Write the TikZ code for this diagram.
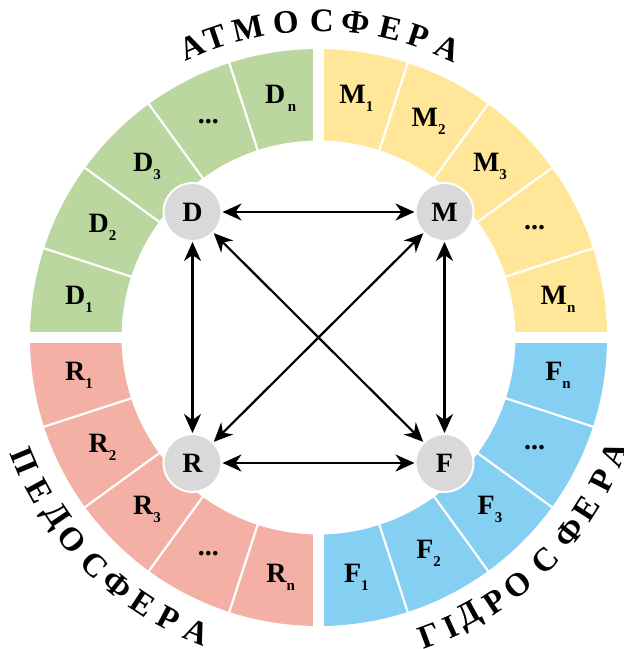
\documentclass[tikz,border=0pt]{standalone}
\usepackage{fontspec}
\setmainfont{Liberation Serif}
\usetikzlibrary{arrows.meta}
\definecolor{cgreen}{RGB}{186,215,160}
\definecolor{cyellow}{RGB}{255,230,153}
\definecolor{csalmon}{RGB}{245,176,166}
\definecolor{cblue}{RGB}{133,207,243}
\definecolor{cgray}{RGB}{217,217,217}
\newcommand{\sg}[2]{#1\raisebox{-8pt}{\fontsize{15}{15}\selectfont #2}}
\begin{document}
\begin{tikzpicture}[x=1pt,y=1pt,
  seglabel/.style={font=\fontsize{28}{28}\selectfont\bfseries, inner sep=0pt},
  cnode/.style={circle, fill=cgray, draw=white, line width=2pt, minimum size=58pt, inner sep=0pt, font=\fontsize{28}{28}\selectfont\bfseries},
  arr/.style={line width=2.2pt, {Stealth[length=19pt,width=17pt,inset=6pt]}-{Stealth[length=19pt,width=17pt,inset=6pt]}},
  bigletter/.style={font=\fontsize{33}{33}\selectfont\bfseries, inner sep=0pt}]
\useasboundingbox (-318.5,-311.5) rectangle (305.5,337.5);
\def\Ri{197}
\def\Ro{288.5}
% quadrants
\fill[cyellow] (0:\Ro) arc[start angle=0,end angle=90,radius=\Ro] -- (90:\Ri) arc[start angle=90,end angle=0,radius=\Ri] -- cycle;
\fill[cgreen] (90:\Ro) arc[start angle=90,end angle=180,radius=\Ro] -- (180:\Ri) arc[start angle=180,end angle=90,radius=\Ri] -- cycle;
\fill[csalmon] (180:\Ro) arc[start angle=180,end angle=270,radius=\Ro] -- (270:\Ri) arc[start angle=270,end angle=180,radius=\Ri] -- cycle;
\fill[cblue] (270:\Ro) arc[start angle=270,end angle=360,radius=\Ro] -- (360:\Ri) arc[start angle=360,end angle=270,radius=\Ri] -- cycle;
% separators
\foreach \a in {18,36,54,72,108,126,144,162,198,216,234,252,288,306,324,342}
  \draw[white, line width=2.2pt] (\a:194) -- (\a:292);
\fill[white] (-5.75,-300) rectangle (5.75,300);
\fill[white] (-300,-5.75) rectangle (300,5.75);
% segment labels
\def\Rl{242.5}
\node[seglabel] (d1) at (171:\Rl) {\sg{D}{1}};
\node[seglabel] (d2) at (153:\Rl) {\sg{D}{2}};
\node[seglabel] (d3) at (135:\Rl) {\sg{D}{3}};
\node[seglabel] (d4) at (117:\Rl) {...};
\node[seglabel] (dn) at (99:\Rl) {\sg{D}{\,n}};
\node[seglabel] (m1) at (81:\Rl) {\sg{M}{1}};
\node[seglabel] (m2) at (63:\Rl) {\sg{M}{2}};
\node[seglabel] (m3) at (45:\Rl) {\sg{M}{3}};
\node[seglabel] (m4) at (27:\Rl) {...};
\node[seglabel] (mn) at (9:\Rl) {\sg{M}{n}};
\node[seglabel] (fn) at (-9:\Rl) {\sg{F}{n}};
\node[seglabel] (f4) at (-27:\Rl) {...};
\node[seglabel] (f3) at (-45:\Rl) {\sg{F}{3}};
\node[seglabel] (f2) at (-63:\Rl) {\sg{F}{2}};
\node[seglabel] (f1) at (-81:\Rl) {\sg{F}{1}};
\node[seglabel] (r1) at (189:\Rl) {\sg{R}{1}};
\node[seglabel] (r2) at (207:\Rl) {\sg{R}{2}};
\node[seglabel] (r3) at (225:\Rl) {\sg{R}{3}};
\node[seglabel] (r4) at (243:\Rl) {...};
\node[seglabel] (rn) at (261:\Rl) {\sg{R}{n}};
% circles
\node[cnode] (D) at (-126,125.5) {D};
\node[cnode] (M) at (126,125.5) {M};
\node[cnode] (R) at (-126,-125.5) {R};
\node[cnode] (F) at (126,-125.5) {F};
% arrows
\draw[arr] (D) -- (M);
\draw[arr] (R) -- (F);
\draw[arr] (D) -- (R);
\draw[arr] (M) -- (F);
\draw[arr] (D) -- (F);
\draw[arr] (M) -- (R);
% curved titles
\foreach \a/\l [count=\i] in {113.6/А,108.9/Т,102.8/М,95.8/О,89.4/С,83.3/Ф,76.8/Е,71.7/Р,66.0/А}
  \node[bigletter, rotate=\a-90] (top\i) at (\a:317) {\l};
\foreach \a/\l [count=\i] in {202.8/П,208.8/Е,214.2/Д,219.4/О,225.5/С,231.0/Ф,236.5/Е,241.9/Р,247.5/А}
  \node[bigletter, rotate=\a+90] (ped\i) at (\a:319) {\l};
\foreach \a/\l [count=\i] in {-69.5/Г,-65.5/І,-61.5/Д,-56.3/Р,-51.1/О,-44.5/С,-37.9/Ф,-32.6/Е,-26.8/Р,-21.6/А}
  \node[bigletter, rotate=\a+90] (gid\i) at (\a:318) {\l};
\end{tikzpicture}
\end{document}
